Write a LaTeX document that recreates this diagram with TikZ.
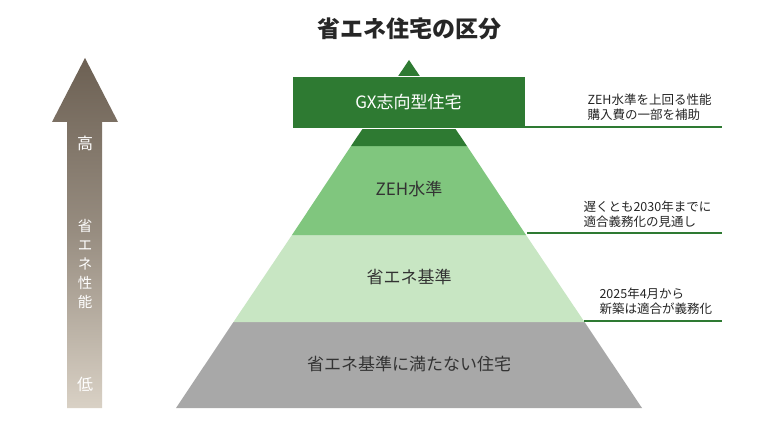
\documentclass[tikz,border=0pt]{standalone}
\usepackage{fontspec}
\setmainfont{Noto Sans CJK JP}
\usetikzlibrary{shadings}
\definecolor{dg}{HTML}{2E7A32}
\definecolor{mg}{HTML}{80C67E}
\definecolor{lg}{HTML}{C8E6C3}
\definecolor{gy}{HTML}{A8A8A8}
\definecolor{at}{HTML}{6C6053}
\definecolor{ab}{HTML}{D9D1C5}
\begin{document}
\begin{tikzpicture}[x=1pt,y=-1pt,
  lab/.style={font=\fontsize{17}{20}\selectfont,text=#1},
  note/.style={font=\fontsize{12.5}{15}\selectfont,align=left,anchor=west,text=black!85},
  rule/.style={draw=dg,line width=1.2pt}]
\useasboundingbox (0,0) rectangle (780,428);
\fill[white] (0,0) rectangle (780,428);
\node[font=\fontsize{23}{26}\selectfont\bfseries,text=black!85] (title) at (409,29) {省エネ住宅の区分};
% pyramid
\fill[gy] (176,408) -- (642,408) -- (584.5,322) -- (233.5,322) -- cycle;
\fill[lg] (233.5,322) -- (584.5,322) -- (526,235) -- (292,235) -- cycle;
\fill[mg] (292,235) -- (526,235) -- (467,146) -- (351,146) -- cycle;
\fill[dg] (351,146) -- (467,146) -- (409,60) -- cycle;
\node[fill=dg,draw=white,line width=0.6pt,minimum width=233,minimum height=52,inner sep=0,
  lab=white] (gx) at (408.5,102) {GX志向型住宅};
\node[lab=black!80] (zeh) at (409,189) {ZEH水準};
\node[lab=black!80] (std) at (409,277) {省エネ基準};
\node[lab=black!80] (sub) at (409,364) {省エネ基準に満たない住宅};
% notes
\coordinate (l1a) at (525,127); \coordinate (l1b) at (722,127);
\coordinate (l2a) at (527,233); \coordinate (l2b) at (722,233);
\coordinate (l3a) at (584,321); \coordinate (l3b) at (722,321);
\draw[rule] (l1a) -- (l1b);
\draw[rule] (l2a) -- (l2b);
\draw[rule] (l3a) -- (l3b);
\node[note] (n1) at (584,107) {ZEH水準を上回る性能\\購入費の一部を補助};
\node[note] (n2) at (580,214) {遅くとも2030年までに\\適合義務化の見通し};
\node[note] (n3) at (596,301) {2025年4月から\\新築は適合が義務化};
% arrow
\shade[top color=at,bottom color=ab,middle color=at!60!ab]
  (67,408) -- (67,122) -- (52,122) -- (85,58) -- (118,122) -- (102,122) -- (102,408) -- cycle;
\node[font=\fontsize{16}{18}\selectfont,text=white] (hi) at (85,143) {高};
\node[font=\fontsize{14.5}{19}\selectfont,text=white,align=center] (mid) at (85,264) {省\\エ\\ネ\\性\\能};
\node[font=\fontsize{16}{18}\selectfont,text=white] (lo) at (85,384) {低};
\end{tikzpicture}
\end{document}
